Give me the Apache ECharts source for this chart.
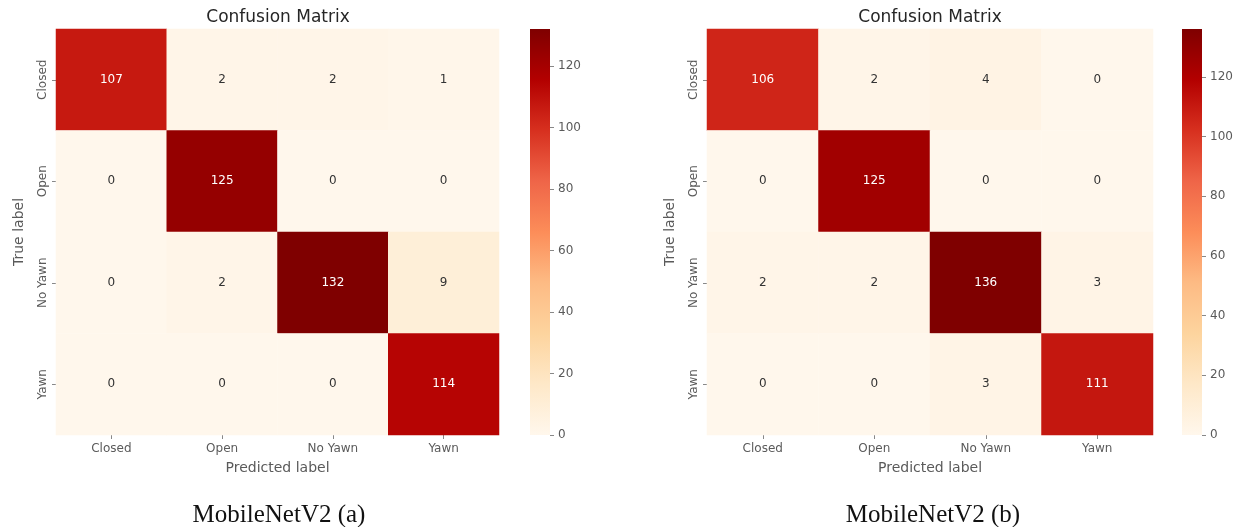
<!DOCTYPE html>
<html>
<head>
<meta charset="utf-8">
<script src="https://cdn.jsdelivr.net/npm/echarts@6/dist/echarts.min.js"></script>
<style>
  html, body { margin: 0; padding: 0; background: #fff; }
  #chart { width: 1243px; height: 527px; }
</style>
</head>
<body>
<div id="chart"></div>
<script>
// Class names (rows = true label, columns = predicted label)
const classes = ['Closed', 'Open', 'No Yawn', 'Yawn'];

// Confusion matrix counts, MobileNetV2 (a)
const matrixA = [
  [107, 2, 2, 1],
  [0, 125, 0, 0],
  [0, 2, 132, 9],
  [0, 0, 0, 114]
];
// Confusion matrix counts, MobileNetV2 (b)
const matrixB = [
  [106, 2, 4, 0],
  [0, 125, 0, 0],
  [2, 2, 136, 3],
  [0, 0, 3, 111]
];

// Colour bar ranges and tick step
const colorbarMaxA = 132;
const colorbarMaxB = 136;
const colorbarStep = 20;

const captions = ['MobileNetV2 (a)', 'MobileNetV2 (b)'];
const panelTitle = 'Confusion Matrix';

// OrRd sequential palette
const orRd = ['#fff7ec', '#fee8c8', '#fdd49e', '#fdbb84', '#fc8d59', '#ef6548', '#d7301f', '#b30000', '#7f0000'];

const FONT = 'DejaVu Sans';
const labelGray = '#5a5a5a';
const tickGray = '#888';

function cells(matrix, vmax) {
  const out = [];
  matrix.forEach((row, r) => {
    row.forEach((v, c) => {
      out.push({
        value: [c, r, v],
        label: { color: v > vmax * 0.6 ? '#ffffff' : '#333333' }
      });
    });
  });
  return out;
}

const panels = [
  { matrix: matrixA, vmax: colorbarMaxA, left: 56, width: 443, barLeft: 530, titleX: 273, capX: 274 },
  { matrix: matrixB, vmax: colorbarMaxB, left: 707, width: 446, barLeft: 1182, titleX: 925, capX: 928 }
];

const grid = [], xAxis = [], yAxis = [], series = [], visualMap = [], title = [];

panels.forEach((p, i) => {
  const gi = i * 2;       // heatmap grid
  const bi = i * 2 + 1;   // colour bar grid
  grid.push({ left: p.left, top: 29, width: p.width, height: 406 });
  grid.push({ left: p.barLeft, top: 29, width: 20, height: 406 });

  xAxis.push({
    type: 'category', gridIndex: gi, data: classes, position: 'bottom',
    name: 'Predicted label', nameLocation: 'middle', nameGap: 26,
    nameTextStyle: { fontFamily: FONT, fontSize: 14, color: labelGray },
    axisLine: { show: true, onZero: false, lineStyle: { color: 'rgba(0,0,0,0)' } },
    axisTick: { show: true, alignWithLabel: true, length: 4, lineStyle: { color: tickGray } },
    axisLabel: { fontFamily: FONT, fontSize: 12, color: labelGray, margin: 8 },
    splitLine: { show: false }
  });
  xAxis.push({
    type: 'value', gridIndex: bi, min: 0, max: 1, show: false
  });

  yAxis.push({
    type: 'category', gridIndex: gi, data: classes, inverse: true,
    name: 'True label', nameLocation: 'middle', nameGap: 30, nameRotate: 90,
    nameTextStyle: { fontFamily: FONT, fontSize: 14, color: labelGray },
    axisLine: { show: true, onZero: false, lineStyle: { color: 'rgba(0,0,0,0)' } },
    axisTick: { show: true, alignWithLabel: true, length: 4, lineStyle: { color: tickGray } },
    axisLabel: { fontFamily: FONT, fontSize: 12, color: labelGray, rotate: 90, margin: 7 },
    splitLine: { show: false }
  });
  yAxis.push({
    type: 'value', gridIndex: bi, position: 'right', min: 0, max: p.vmax, interval: colorbarStep,
    axisLine: { show: true, onZero: false, lineStyle: { color: 'rgba(0,0,0,0)' } },
    axisTick: { show: true, length: 4, lineStyle: { color: tickGray } },
    axisLabel: { fontFamily: FONT, fontSize: 12, color: labelGray, margin: 8,
      showMaxLabel: false },
    splitLine: { show: false }
  });

  visualMap.push({
    show: false, type: 'continuous', seriesIndex: i * 2, min: 0, max: p.vmax,
    inRange: { color: orRd }
  });

  series.push({
    type: 'heatmap', xAxisIndex: gi, yAxisIndex: gi,
    data: cells(p.matrix, p.vmax),
    label: { show: true, fontFamily: FONT, fontSize: 12,
      formatter: (d) => String(d.value[2]) },
    itemStyle: { borderWidth: 0 },
    emphasis: { disabled: true }
  });

  // Colour bar: a gradient rectangle spanning 0..vmax on the bar's value axis
  series.push({
    type: 'custom', xAxisIndex: bi, yAxisIndex: bi,
    data: [[0, 0, 1, p.vmax]],
    silent: true,
    renderItem: (params, api) => {
      const a = api.coord([api.value(0), api.value(1)]);
      const b = api.coord([api.value(2), api.value(3)]);
      const stops = orRd.map((c, k) => ({ offset: 1 - k / (orRd.length - 1), color: c }));
      return {
        type: 'rect',
        shape: { x: a[0], y: b[1], width: b[0] - a[0], height: a[1] - b[1] },
        style: { fill: new echarts.graphic.LinearGradient(0, 0, 0, 1, stops) }
      };
    }
  });

  title.push({
    text: panelTitle, left: p.titleX, top: 4, textAlign: 'center',
    textStyle: { fontFamily: FONT, fontSize: 17, fontWeight: 'normal', color: '#262626' }
  });
  title.push({
    text: captions[i], left: p.capX, top: 498, textAlign: 'center',
    textStyle: { fontFamily: 'Liberation Serif', fontSize: 25, fontWeight: 'normal', color: '#111' }
  });
});

const chart = echarts.init(document.getElementById('chart'), null, { renderer: 'canvas' });
chart.setOption({
  backgroundColor: '#ffffff',
  animation: false,
  title, grid, xAxis, yAxis, visualMap, series
});
</script>
</body>
</html>
